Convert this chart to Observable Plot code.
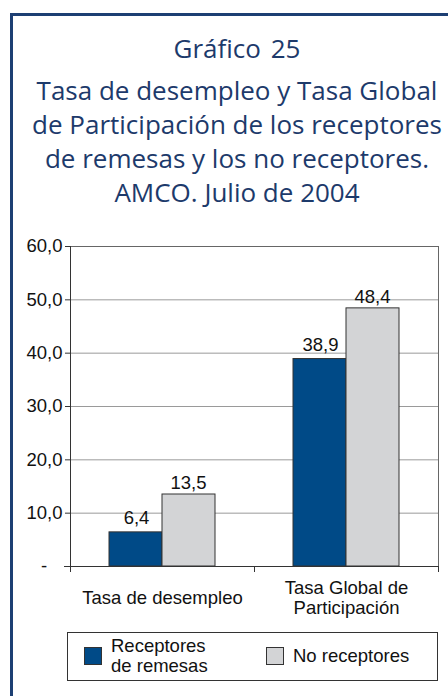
<!DOCTYPE html>
<html>
<head>
<meta charset="utf-8">
<script src="https://cdn.jsdelivr.net/npm/d3@7"></script>
<script src="https://cdn.jsdelivr.net/npm/@observablehq/plot@0.6"></script>
<style>
  html, body { margin: 0; padding: 0; background: #fff; }
  body { width: 448px; height: 696px; position: relative; overflow: hidden; }
  #frame { position: absolute; left: 10px; top: 13px; width: 460px; height: 720px; border: 3px solid #1d3f73; box-sizing: border-box; }
  .title { position: absolute; left: 13px; width: 448px; text-align: center; color: #1d3a6b; font-family: "Open Sans", sans-serif; white-space: nowrap; }
  #t1 { top: 30px; font-size: 26px; word-spacing: 3px; }
  #t2 { top: 73px; font-size: 26px; line-height: 34px; }
  #chart { position: absolute; left: 0; top: 230px; }
  #legend { position: absolute; left: 67px; top: 632px; width: 371px; height: 49px; border: 1px solid #333; box-sizing: border-box; font-family: "Liberation Sans", Arial, sans-serif; font-size: 18.5px; color: #111; }
  .item { position: absolute; display: flex; align-items: center; }
  .sw { width: 18px; height: 18px; border: 1px solid #333; box-sizing: border-box; margin-right: 9px; }
  .lbl { line-height: 20px; }
</style>
</head>
<body>
<div id="frame"></div>
<div class="title" id="t1">Gráfico 25</div>
<div class="title" id="t2">Tasa de desempleo y Tasa Global<br>de Participación de los receptores<br>de remesas y los no receptores.<br>AMCO. Julio de 2004</div>
<div id="chart"></div>
<div id="legend"></div>
<script>
const categories = ["Tasa de desempleo", "Tasa Global de\nParticipación"];
const series = ["Receptores\nde remesas", "No receptores"];
const receptores = [6.4, 38.9];
const noReceptores = [13.5, 48.4];
const colors = ["#004a87", "#d3d4d6"];
const yTicks = [0, 10, 20, 30, 40, 50, 60];

const rows = categories.flatMap((c, i) => [
  {cat: c, serie: series[0], value: receptores[i]},
  {cat: c, serie: series[1], value: noReceptores[i]}
]);
const fmt = v => v.toFixed(1).replace(".", ",");
const font = "Liberation Sans, Arial, sans-serif";
const fs = 18.5;

const chart = Plot.plot({
  width: 448,
  height: 400,
  marginLeft: 70,
  marginRight: 10,
  marginTop: 16,
  marginBottom: 64,
  style: {fontFamily: font, fontSize: fs + "px", color: "#111", background: "transparent"},
  x: {domain: categories, padding: 0, axis: null},
  y: {domain: [0, 60], axis: null},
  color: {domain: series, range: colors},
  marks: [
    Plot.ruleY(yTicks.slice(1, -1), {stroke: "#9a9a9a", strokeWidth: 1}),
    Plot.barY(rows.filter(d => d.serie === series[0]), {x: "cat", y: "value", fill: "serie", stroke: "#333", strokeWidth: 1, insetLeft: 39, insetRight: 92}),
    Plot.barY(rows.filter(d => d.serie === series[1]), {x: "cat", y: "value", fill: "serie", stroke: "#333", strokeWidth: 1, insetLeft: 92, insetRight: 39}),
    Plot.text(rows.filter(d => d.serie === series[0]), {x: "cat", y: "value", text: d => fmt(d.value), dx: -26, dy: -14, lineAnchor: "middle", fill: "#111", fontSize: fs}),
    Plot.text(rows.filter(d => d.serie === series[1]), {x: "cat", y: "value", text: d => fmt(d.value), dx: 26, dy: -11, lineAnchor: "middle", fill: "#111", fontSize: fs}),
    Plot.ruleY([60], {stroke: "#666"}),
    Plot.ruleX([categories[1]], {stroke: "#666", dx: 92}),
    Plot.ruleX([categories[0]], {stroke: "#333", dx: -92}),
    Plot.ruleY([0], {stroke: "#333", insetLeft: -6}),
    Plot.axisY({ticks: yTicks, label: null, tickSize: 5, tickPadding: 3, tickFormat: d => d === 0 ? "-\u00a0\u00a0\u00a0" : fmt(d), stroke: "#333", fill: "#111", fontSize: fs}),
    Plot.ruleX(categories, {y1: 0, y2: 0, dx: -92, insetBottom: -6, stroke: "#333"}),
    Plot.ruleX([categories[1]], {y1: 0, y2: 0, dx: 92, insetBottom: -6, stroke: "#333"}),
    Plot.text(categories, {x: d => d, y: 0, text: d => d, dy: 31, lineAnchor: "middle", lineHeight: 1.1, fill: "#111", fontSize: fs})
  ]
});
document.getElementById("chart").appendChild(chart);

const legend = document.getElementById("legend");
const pos = [{left: 16, top: 3}, {left: 198, top: 13}];
series.forEach((s, i) => {
  const it = document.createElement("div");
  it.className = "item";
  it.style.left = pos[i].left + "px";
  it.style.top = pos[i].top + "px";
  const sw = document.createElement("div");
  sw.className = "sw";
  sw.style.background = colors[i];
  const lb = document.createElement("div");
  lb.className = "lbl";
  lb.innerHTML = s.replace("\n", "<br>");
  it.appendChild(sw); it.appendChild(lb);
  legend.appendChild(it);
});
</script>
</body>
</html>
